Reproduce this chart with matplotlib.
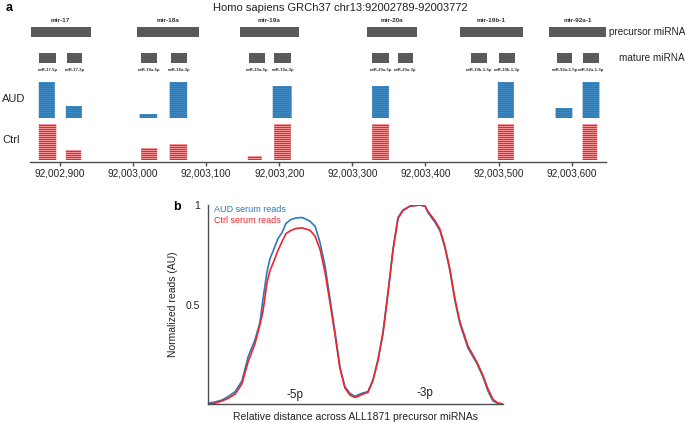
import matplotlib
matplotlib.use("Agg")
import matplotlib.pyplot as plt
from matplotlib.ticker import FuncFormatter

plt.rcParams["font.family"] = ["Liberation Sans", "DejaVu Sans"]

W, H = 685, 423

# ---- panel a data (GRCh37 chr13) ----
precursor_names = ["mir-17", "mir-18a", "mir-19a", "mir-20a", "mir-19b-1", "mir-92a-1"]
precursor_start = [92002860, 92003005, 92003146, 92003320, 92003447, 92003569]
precursor_end = [92002942, 92003090, 92003227, 92003389, 92003533, 92003647]

mature_names = ["miR-17-5p", "miR-17-3p", "miR-18a-5p", "miR-18a-3p",
                "miR-19a-5p", "miR-19a-3p", "miR-20a-5p", "miR-20a-3p",
                "miR-19b-1-5p", "miR-19b-1-3p", "miR-92a-1-5p", "miR-92a-1-3p"]
mature_start = [92002871, 92002910, 92003011, 92003052, 92003158, 92003193,
                92003327, 92003362, 92003462, 92003500, 92003580, 92003615]
mature_end = [92002895, 92002930, 92003033, 92003074, 92003180, 92003216,
              92003350, 92003383, 92003484, 92003522, 92003601, 92003637]

aud_start = [92002871, 92002908, 92003009, 92003050, 92003191, 92003327, 92003499, 92003578, 92003615]
aud_end = [92002893, 92002930, 92003033, 92003074, 92003217, 92003350, 92003521, 92003601, 92003638]
aud_reads = [18, 6, 2, 18, 16, 16, 18, 5, 18]

ctrl_start = [92002871, 92002908, 92003011, 92003050, 92003157, 92003193, 92003327, 92003499, 92003615]
ctrl_end = [92002895, 92002929, 92003033, 92003074, 92003176, 92003216, 92003350, 92003521, 92003635]
ctrl_reads = [18, 5, 6, 8, 2, 18, 18, 18, 18]

genome_ticks = list(range(92002900, 92003601, 100))

# ---- panel b data (normalized read coverage across precursors) ----
rel_dist = [0.000, 0.024, 0.047, 0.068, 0.092, 0.115, 0.136, 0.159, 0.176, 0.186,
            0.200, 0.210, 0.224, 0.237, 0.251, 0.264, 0.281, 0.298, 0.319, 0.332,
            0.346, 0.363, 0.380, 0.397, 0.414, 0.431, 0.447, 0.464, 0.481, 0.498,
            0.508, 0.522, 0.542, 0.559, 0.576, 0.593, 0.610, 0.627, 0.644, 0.661,
            0.685, 0.719, 0.736, 0.746, 0.769, 0.786, 0.803, 0.820, 0.837, 0.854,
            0.881, 0.912, 0.932, 0.949, 0.966, 0.983, 1.000]
aud_norm = [0.004, 0.010, 0.020, 0.037, 0.062, 0.116, 0.237, 0.322, 0.408, 0.524,
            0.665, 0.730, 0.781, 0.831, 0.861, 0.907, 0.927, 0.935, 0.937, 0.929,
            0.918, 0.893, 0.810, 0.692, 0.524, 0.358, 0.188, 0.087, 0.054, 0.038,
            0.045, 0.054, 0.062, 0.121, 0.222, 0.358, 0.559, 0.776, 0.937, 0.975,
            0.994, 1.000, 0.994, 0.961, 0.914, 0.872, 0.786, 0.670, 0.519, 0.403,
            0.282, 0.202, 0.136, 0.065, 0.015, 0.003, 0.000]
ctrl_norm = [0.000, 0.004, 0.015, 0.028, 0.050, 0.101, 0.212, 0.302, 0.398, 0.463,
             0.610, 0.670, 0.720, 0.771, 0.816, 0.856, 0.872, 0.882, 0.885, 0.879,
             0.873, 0.843, 0.776, 0.660, 0.504, 0.343, 0.181, 0.081, 0.045, 0.033,
             0.038, 0.048, 0.058, 0.116, 0.217, 0.353, 0.554, 0.771, 0.932, 0.972,
             0.995, 1.000, 0.994, 0.967, 0.922, 0.879, 0.793, 0.678, 0.529, 0.413,
             0.292, 0.209, 0.144, 0.076, 0.023, 0.005, 0.000]

BLUE = "#2a7bb9"
RED = "#ec262c"
GREY = "#595959"
AXC = "#4d4d4d"


def px_box(x0, y0, x1, y1):
    # pixel box (top-left origin) -> figure fraction [left, bottom, width, height]
    return [x0 / W, 1 - y1 / H, (x1 - x0) / W, (y1 - y0) / H]


fig = plt.figure(figsize=(W / 100, H / 100), dpi=100)

# ---------------- panel a ----------------
ax = fig.add_axes(px_box(30, 14, 606, 162))
ax.set_xlim(92002859, 92003647)
ax.set_ylim(0, 148)

# precursor and mature boxes
for name, s, e in zip(precursor_names, precursor_start, precursor_end):
    ax.barh(130, e - s, left=s, height=10, color=GREY, edgecolor="none")
    ax.text((s + e) / 2, 142, name, ha="center", va="center", fontsize=4.6,
            fontweight="bold", color="#333333")
for name, s, e in zip(mature_names, mature_start, mature_end):
    ax.barh(104, e - s, left=s, height=10, color=GREY, edgecolor="none")
    ax.text((s + e) / 2, 92, name, ha="center", va="center", fontsize=3.1,
            fontweight="bold", color="#333333")

# read stacks, one thin bar per read
for s, e, n in zip(aud_start, aud_end, aud_reads):
    for i in range(n):
        ax.barh(44 + 2 * i, e - s, left=s, height=1.9, align="edge",
                color=BLUE, edgecolor="none", snap=False)
for s, e, n in zip(ctrl_start, ctrl_end, ctrl_reads):
    for i in range(n):
        ax.barh(2 + 2 * i, e - s, left=s, height=1.5, align="edge",
                color=RED, edgecolor="none", snap=False)

for side in ["left", "right", "top"]:
    ax.spines[side].set_visible(False)
ax.spines["bottom"].set_color(AXC)
ax.spines["bottom"].set_linewidth(1.0)
ax.set_yticks([])
ax.set_xticks(genome_ticks)
ax.xaxis.set_major_formatter(FuncFormatter(lambda v, p: f"{int(v):,}"))
ax.tick_params(axis="x", length=3, width=1.0, color=AXC, labelsize=7.2,
               labelcolor="#222222", pad=2)

fig.text(6 / W, 1 - 8 / H, "a", fontsize=9, fontweight="bold", va="center")
fig.text(340 / W, 1 - 8 / H, "Homo sapiens GRCh37 chr13:92002789-92003772",
         fontsize=8, ha="center", va="center", color="#222222")
fig.text(609 / W, 1 - 32 / H, "precursor miRNA", fontsize=7.2, va="center", color="#222222")
fig.text(619 / W, 1 - 58 / H, "mature miRNA", fontsize=7.2, va="center", color="#222222")
fig.text(2 / W, 1 - 99 / H, "AUD", fontsize=8, va="center", color="#222222")
fig.text(2 / W, 1 - 140 / H, "Ctrl", fontsize=8, va="center", color="#222222")

# ---------------- panel b ----------------
bx = fig.add_axes(px_box(208, 205, 503, 404))
bx.plot(rel_dist, aud_norm, color=BLUE, lw=1.2, solid_joinstyle="round")
bx.plot(rel_dist, ctrl_norm, color=RED, lw=1.2, solid_joinstyle="round")
bx.set_xlim(0, 1)
bx.set_ylim(0, 1)
for side in ["right", "top"]:
    bx.spines[side].set_visible(False)
for side in ["left", "bottom"]:
    bx.spines[side].set_color(AXC)
    bx.spines[side].set_linewidth(1.0)
bx.set_xticks([])
bx.set_yticks([0.5, 1])
bx.set_yticklabels(["0.5", "1"])
bx.tick_params(axis="y", length=0, pad=6, labelsize=7.5, labelcolor="#222222")
bx.set_ylabel("Normalized reads (AU)", fontsize=7.5, labelpad=5, color="#222222")
bx.set_xlabel("Relative distance across ALL1871 precursor miRNAs", fontsize=7.5,
              labelpad=6, color="#222222")
bx.text(0.02, 0.977, "AUD serum reads", transform=bx.transAxes, fontsize=6.5,
        color=BLUE, va="center")
bx.text(0.02, 0.922, "Ctrl serum reads", transform=bx.transAxes, fontsize=6.5,
        color=RED, va="center")
bx.text(0.295, 0.045, "-5p", transform=bx.transAxes, fontsize=8.5, ha="center",
        va="center", color="#222222")
bx.text(0.736, 0.055, "-3p", transform=bx.transAxes, fontsize=8.5, ha="center",
        va="center", color="#222222")
fig.text(177 / W, 1 - 207 / H, "b", fontsize=9, fontweight="bold", va="center", ha="center")

fig.savefig("out.png", dpi=100)
